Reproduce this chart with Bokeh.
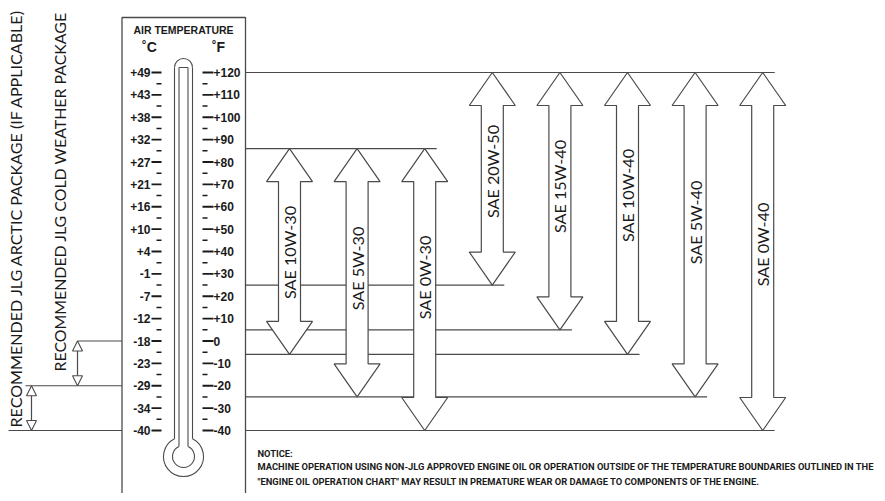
import math
from bokeh.plotting import figure
from bokeh.models import Range1d
from bokeh.core.properties import value
from bokeh.embed import file_html
from bokeh.resources import INLINE

# ---------------- data ----------------
oil_grades = ["SAE 10W-30", "SAE 5W-30", "SAE 0W-30", "SAE 20W-50",
              "SAE 15W-40", "SAE 10W-40", "SAE 5W-40", "SAE 0W-40"]
oil_max_f = [86, 86, 86, 120, 120, 120, 120, 120]
oil_min_f = [-6, -25, -40, 25, 5, -6, -25, -40]

f_ticks = [120, 110, 100, 90, 80, 70, 60, 50, 40, 30, 20, 10, 0, -10, -20, -30, -40]
f_labels = ["+120", "+110", "+100", "+90", "+80", "+70", "+60", "+50", "+40",
            "+30", "+20", "+10", "0", "-10", "-20", "-30", "-40"]
c_labels = ["+49", "+43", "+38", "+32", "+27", "+21", "+16", "+10", "+4",
            "-1", "-7", "-12", "-18", "-23", "-29", "-34", "-40"]

packages = ["RECOMMENDED JLG ARCTIC PACKAGE (IF APPLICABLE)",
            "RECOMMENDED JLG COLD WEATHER PACKAGE"]
pkg_min_f = [-40, -20]
pkg_max_f = [-20, 0]

notice_lines = [
    "NOTICE:",
    "MACHINE OPERATION USING NON-JLG APPROVED ENGINE OIL OR OPERATION OUTSIDE OF THE TEMPERATURE BOUNDARIES OUTLINED IN THE",
    "\"ENGINE OIL  OPERATION CHART\" MAY RESULT IN PREMATURE WEAR OR DAMAGE TO COMPONENTS OF THE ENGINE.",
]

# ---------------- layout ----------------
LINE = "#4a4a4a"
TEXT = "#1a1a1a"
PX_PER_F = 2.2375
Y_AT_120 = 72.0


def fy(py):
    return 120 - (py - Y_AT_120) / PX_PER_F


def dpx(px):
    return px / PX_PER_F


W, H = 877, 493
p = figure(width=W, height=H, output_backend="svg", toolbar_location=None,
           x_range=Range1d(0, W), y_range=Range1d(fy(H), fy(0)),
           x_axis_type=None, y_axis_type=None, min_border=0,
           outline_line_color=None, background_fill_color="white")
p.grid.visible = False

BOX_L, BOX_R = 121.5, 245.0

# ---- oil arrows ----
ARROW_X0, ARROW_DX = 289.0, 67.6
arrow_x = [ARROW_X0 + i * ARROW_DX for i in range(len(oil_grades))]
label_center_px = [252, 268, 277, 171, 186, 195, 222, 244]
hl = dpx(33)
sw, hw = 11, 23

# horizontal boundary lines (right side)
bounds = sorted(set(oil_max_f + oil_min_f), reverse=True)
x0s, x1s, y0s = [], [], []
for t in bounds:
    xs_touch = [arrow_x[i] for i in range(len(oil_grades)) if oil_max_f[i] == t or oil_min_f[i] == t]
    x0s.append(BOX_R)
    x1s.append(max(xs_touch) + 12)
    y0s.append(t)
p.segment(x0=x0s, y0=y0s, x1=x1s, y1=y0s, line_color=LINE, line_width=1.2)

axs, ays = [], []
for cx, top, bot in zip(arrow_x, oil_max_f, oil_min_f):
    axs.append([cx, cx + hw, cx + sw, cx + sw, cx + hw, cx, cx - hw, cx - sw, cx - sw, cx - hw])
    ays.append([top, top - hl, top - hl, bot + hl, bot + hl, bot, bot + hl, bot + hl, top - hl, top - hl])
p.patches(axs, ays, fill_color="white", line_color=LINE, line_width=1.2)

p.text(x=arrow_x, y=[fy(v) for v in label_center_px], text=oil_grades,
       angle=math.pi / 2, text_align="center", text_baseline="middle",
       text_font=value("Lato"), text_font_size="16.2px", text_color=TEXT)

# ---- package arrows (left) ----
pkg_x = [31, 77]
pb = sorted(set(pkg_min_f + pkg_max_f))
lx0 = []
for t in pb:
    touch = [pkg_x[i] for i in range(len(packages)) if pkg_min_f[i] == t or pkg_max_f[i] == t]
    if t == min(pb):
        lx0.append(8)
    elif t == max(pb):
        lx0.append(min(touch))
    else:
        lx0.append(min(touch) - 6)
p.segment(x0=lx0, y0=pb, x1=[BOX_L] * len(pb), y1=pb, line_color=LINE, line_width=1.2)
phl = dpx(10)
phw = 5
p.segment(x0=pkg_x, y0=[b + phl for b in pkg_min_f], x1=pkg_x, y1=[t - phl for t in pkg_max_f],
          line_color=LINE, line_width=1.2)
txs, tys = [], []
for cx, top, bot in zip(pkg_x, pkg_max_f, pkg_min_f):
    txs.append([cx, cx + phw, cx - phw])
    tys.append([top, top - phl, top - phl])
    txs.append([cx, cx + phw, cx - phw])
    tys.append([bot, bot + phl, bot + phl])
p.patches(txs, tys, fill_color="white", line_color=LINE, line_width=1.1)

p.text(x=[15], y=[fy(427)], text=[packages[0]], angle=math.pi / 2,
       text_align="left", text_baseline="middle", text_font=value("Lato"),
       text_font_size="16.1px", text_color=TEXT)
p.text(x=[59], y=[fy(371)], text=[packages[1]], angle=math.pi / 2,
       text_align="left", text_baseline="middle", text_font=value("Lato"),
       text_font_size="15.9px", text_color=TEXT)

# ---- thermometer box ----
p.quad(left=BOX_L, right=BOX_R, top=fy(17), bottom=fy(497), fill_color="white",
       line_color=LINE, line_width=1.3)
p.text(x=[183], y=[fy(29)], text=["AIR TEMPERATURE"], text_align="center",
       text_baseline="middle", text_font=value("Liberation Sans"), text_font_style="bold",
       text_font_size="10.5px", text_color=TEXT)
p.text(x=[149, 218], y=[fy(46), fy(46)], text=["\u02daC", "\u02daF"], text_align="center",
       text_baseline="middle", text_font=value("Liberation Sans"), text_font_style="bold",
       text_font_size="14px", text_color=TEXT)

# ticks
p.segment(x0=[151] * len(f_ticks), y0=f_ticks, x1=[161] * len(f_ticks), y1=f_ticks,
          line_color=TEXT, line_width=1.8)
p.segment(x0=[202] * len(f_ticks), y0=f_ticks, x1=[213] * len(f_ticks), y1=f_ticks,
          line_color=TEXT, line_width=1.8)
minor = [(a + b) / 2 for a, b in zip(f_ticks[:-1], f_ticks[1:])]
p.segment(x0=[156] * len(minor), y0=minor, x1=[161] * len(minor), y1=minor,
          line_color=TEXT, line_width=1.6)
p.segment(x0=[202] * len(minor), y0=minor, x1=[207] * len(minor), y1=minor,
          line_color=TEXT, line_width=1.6)
p.text(x=[150] * len(f_ticks), y=f_ticks, text=c_labels, text_align="right",
       text_baseline="middle", text_font=value("Liberation Sans"), text_font_style="bold",
       text_font_size="12px", text_color=TEXT)
p.text(x=[213] * len(f_ticks), y=f_ticks, text=f_labels, text_align="left",
       text_baseline="middle", text_font=value("Liberation Sans"), text_font_style="bold",
       text_font_size="12px", text_color=TEXT)

# tube & bulb
TX = 183.0
OUT_HW, IN_HW = 9.0, 4.5
TUBE_TOP = 67.0
BULB_Y = 456.0
R_OUT, R_IN = 20.0, 11.0
dy_out = math.sqrt(R_OUT ** 2 - OUT_HW ** 2)
dy_in = math.sqrt(R_IN ** 2 - IN_HW ** 2)
p.segment(x0=[TX - OUT_HW, TX + OUT_HW], y0=[fy(TUBE_TOP)] * 2,
          x1=[TX - OUT_HW, TX + OUT_HW], y1=[fy(BULB_Y - dy_out)] * 2,
          line_color=LINE, line_width=1.1)
p.segment(x0=[TX - IN_HW, TX + IN_HW, TX - IN_HW], y0=[fy(TUBE_TOP), fy(TUBE_TOP), fy(TUBE_TOP)],
          x1=[TX - IN_HW, TX + IN_HW, TX + IN_HW], y1=[fy(BULB_Y - dy_in), fy(BULB_Y - dy_in), fy(TUBE_TOP)],
          line_color=LINE, line_width=1.1)
p.arc(x=[TX], y=[fy(TUBE_TOP)], radius=OUT_HW, radius_units="screen",
      start_angle=0, end_angle=math.pi, line_color=LINE, line_width=1.1)
a_out = math.atan2(dy_out, OUT_HW)
a_in = math.atan2(dy_in, IN_HW)
p.arc(x=[TX], y=[fy(BULB_Y)], radius=R_OUT, radius_units="screen",
      start_angle=math.pi - a_out, end_angle=a_out, direction="anticlock",
      line_color=LINE, line_width=1.1)
p.arc(x=[TX], y=[fy(BULB_Y)], radius=R_IN, radius_units="screen",
      start_angle=math.pi - a_in, end_angle=a_in, direction="anticlock",
      line_color=LINE, line_width=1.1)

# ---- notice ----
p.text(x=[257] * 3, y=[fy(453), fy(466), fy(481)], text=notice_lines, text_align="left",
       text_baseline="middle", text_font=value("Roboto"), text_font_style="bold",
       text_font_size="9.35px", text_color=TEXT)

open("out.html", "w").write(file_html(p, INLINE))
